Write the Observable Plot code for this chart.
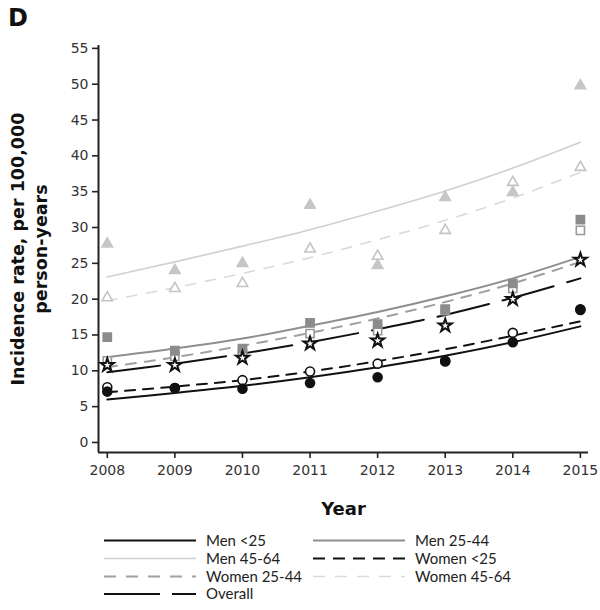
<!DOCTYPE html>
<html>
<head>
<meta charset="utf-8">
<script src="https://cdn.jsdelivr.net/npm/d3@7"></script>
<script src="https://cdn.jsdelivr.net/npm/@observablehq/plot@0.6"></script>
<style>
  html, body { margin: 0; padding: 0; background: #fff; }
  #wrap { position: relative; width: 600px; }
  #title { position: absolute; left: 8px; top: 4px; font: bold 24px "DejaVu Sans", sans-serif; color: #111; }
</style>
</head>
<body>
<div id="wrap">
  <div id="chart"></div>
  <div id="legend"></div>
  <div id="title">D</div>
</div>
<script>
// ---- data ----
const years = [2008, 2009, 2010, 2011, 2012, 2013, 2014, 2015];
const yTicks = [0, 5, 10, 15, 20, 25, 30, 35, 40, 45, 50, 55];

// observed rates (markers)
const menU25Obs     = [7.1, 7.6, 7.5, 8.3, 9.1, 11.3, 14.0, 18.6];
const womenU25Obs   = [7.7, 7.6, 8.7, 9.9, 11.0, 11.4, 15.3, 18.5];
const men2544Obs    = [14.7, 12.8, 13.1, 16.7, 16.5, 18.6, 22.2, 31.1];
const women2544Obs  = [11.4, 12.0, 12.4, 15.2, 15.6, 18.4, 21.5, 29.6];
const men4564Obs    = [27.7, 24.0, 25.0, 33.1, 24.7, 34.2, 34.9, 49.8];
const women4564Obs  = [20.2, 21.5, 22.2, 27.0, 26.0, 29.6, 36.3, 38.4];
const overallObs    = [10.8, 10.8, 11.8, 13.8, 14.2, 16.3, 20.0, 25.5];

// fitted trends (lines)
const menU25Fit     = [6.0, 6.9, 7.9, 9.1, 10.5, 12.1, 14.0, 16.2];
const womenU25Fit   = [7.0, 7.8, 8.7, 9.9, 11.35, 13.0, 14.9, 16.9];
const men2544Fit    = [11.9, 13.1, 14.5, 16.3, 18.2, 20.4, 22.9, 25.9];
const women2544Fit  = [10.5, 11.9, 13.5, 15.3, 17.3, 19.6, 22.2, 25.2];
const men4564Fit    = [23.1, 25.2, 27.4, 29.7, 32.3, 35.1, 38.3, 41.9];
const women4564Fit  = [19.8, 21.6, 23.6, 25.8, 28.3, 31.0, 34.1, 37.7];
const overallFit    = [9.8, 11.0, 12.4, 14.0, 15.8, 17.8, 20.2, 22.9];

const seriesNames = ["Men <25", "Men 25-44", "Men 45-64", "Women <25", "Women 25-44", "Women 45-64", "Overall"];

// ---- styles ----
const styles = {
  "Men <25":      {stroke: "#111", width: 2, dash: null, symbol: "circle", fill: "#111", mstroke: "#111", r: 4.5},
  "Men 25-44":    {stroke: "#8f8f8f", width: 2, dash: null, symbol: "square", fill: "#8c8c8c", mstroke: "#8c8c8c", r: 4.6},
  "Men 45-64":    {stroke: "#d0d0d0", width: 1.6, dash: null, symbol: "triangle", fill: "#c6c6c6", mstroke: "#c6c6c6", r: 3.9},
  "Women <25":    {stroke: "#111", width: 2, dash: "10,8", symbol: "circle", fill: "#fff", mstroke: "#111", r: 4.5},
  "Women 25-44":  {stroke: "#a0a0a0", width: 2, dash: "10,9", symbol: "square", fill: "#fff", mstroke: "#999", r: 4.6},
  "Women 45-64":  {stroke: "#dadada", width: 1.6, dash: "10,10", symbol: "triangle", fill: "#fff", mstroke: "#c4c4c4", r: 3.9},
  "Overall":      {stroke: "#111", width: 2, dash: "53,14", symbol: "star", fill: "#fff", mstroke: "#111", r: 4.1}
};

const obs = {
  "Men <25": menU25Obs, "Men 25-44": men2544Obs, "Men 45-64": men4564Obs,
  "Women <25": womenU25Obs, "Women 25-44": women2544Obs, "Women 45-64": women4564Obs,
  "Overall": overallObs
};
const fit = {
  "Men <25": menU25Fit, "Men 25-44": men2544Fit, "Men 45-64": men4564Fit,
  "Women <25": womenU25Fit, "Women 25-44": women2544Fit, "Women 45-64": women4564Fit,
  "Overall": overallFit
};

const tidy = (src, name) => years.map((yr, i) => ({year: yr, value: src[name][i], series: name}));

// draw order: lightest first
const lineOrder = ["Women 45-64", "Men 45-64", "Women 25-44", "Men 25-44", "Women <25", "Men <25", "Overall"];
const pointOrder = ["Women 45-64", "Men 45-64", "Women 25-44", "Men 25-44", "Women <25", "Men <25", "Overall"];

const xDomain = [2007.87, 2015.12];
const yDomain = [-1.4, 55.4];

const marks = [];
for (const name of lineOrder) {
  const s = styles[name];
  marks.push(Plot.line(tidy(fit, name), {
    x: "year", y: "value", stroke: s.stroke, strokeWidth: s.width,
    strokeDasharray: s.dash || undefined, curve: "catmull-rom"
  }));
}
for (const name of pointOrder) {
  const s = styles[name];
  marks.push(Plot.dot(tidy(obs, name), {
    x: "year", y: "value", symbol: s.symbol, r: s.r,
    fill: s.fill, stroke: s.mstroke, strokeWidth: name === "Overall" ? 2 : 1.6
  }));
}

const chart = Plot.plot({
  width: 600,
  height: 520,
  marginLeft: 98,
  marginRight: 12,
  marginTop: 45,
  marginBottom: 68,
  style: {fontFamily: "DejaVu Sans, sans-serif", fontSize: "14px", color: "#222", background: "#fff"},
  x: {domain: xDomain},
  y: {domain: yDomain},
  marks: [
    Plot.axisY(yTicks, {tickSize: 6, tickPadding: 4, strokeWidth: 1.6, stroke: "#222", fontSize: 14, label: null, fill: "#333"}),
    Plot.axisX(years, {tickSize: 6, tickPadding: 7, strokeWidth: 1.6, stroke: "#222", fontSize: 14, label: null, tickFormat: d => String(d), fill: "#333"}),
    Plot.ruleX([xDomain[0]], {stroke: "#222", strokeWidth: 2}),
    Plot.ruleY([yDomain[0]], {stroke: "#222", strokeWidth: 2}),
    ...marks,
    Plot.text(["Incidence rate, per 100,000\nperson-years"], {
      frameAnchor: "left", dx: -70, rotate: -90, lineAnchor: "middle", textAnchor: "middle",
      fontWeight: "bold", fontSize: 17.5, fill: "#111", lineHeight: 1.3
    }),
    Plot.text(["Year"], {
      frameAnchor: "bottom", dy: 62, fontWeight: "bold", fontSize: 18, fill: "#111"
    })
  ]
});
document.getElementById("chart").appendChild(chart);

// ---- legend ----
const legendItems = [
  {name: "Men <25", col: 0, row: 0},
  {name: "Men 25-44", col: 1, row: 0},
  {name: "Men 45-64", col: 0, row: 1},
  {name: "Women <25", col: 1, row: 1},
  {name: "Women 25-44", col: 0, row: 2},
  {name: "Women 45-64", col: 1, row: 2},
  {name: "Overall", col: 0, row: 3}
];
const colX = [104, 313];
const rowY = [20.5, 38.5, 56.5, 74];
const leg = d3.create("svg").attr("width", 600).attr("height", 90)
  .style("display", "block")
  .style("font-family", "Lato, 'Open Sans', sans-serif").style("font-size", "15px");
for (const it of legendItems) {
  const s = styles[it.name];
  const x0 = colX[it.col], y = rowY[it.row];
  leg.append("line").attr("x1", x0).attr("x2", x0 + 92).attr("y1", y).attr("y2", y)
    .attr("stroke", s.stroke).attr("stroke-width", s.width)
    .attr("stroke-dasharray", s.dash ? (it.name === "Overall" ? "56,12" : (it.name === "Women <25" ? "12,8" : "12,10")) : null);
  leg.append("text").attr("x", x0 + 102).attr("y", y).attr("dy", "0.35em")
    .attr("fill", "#222").text(it.name);
}
document.getElementById("legend").appendChild(leg.node());
</script>
</body>
</html>
